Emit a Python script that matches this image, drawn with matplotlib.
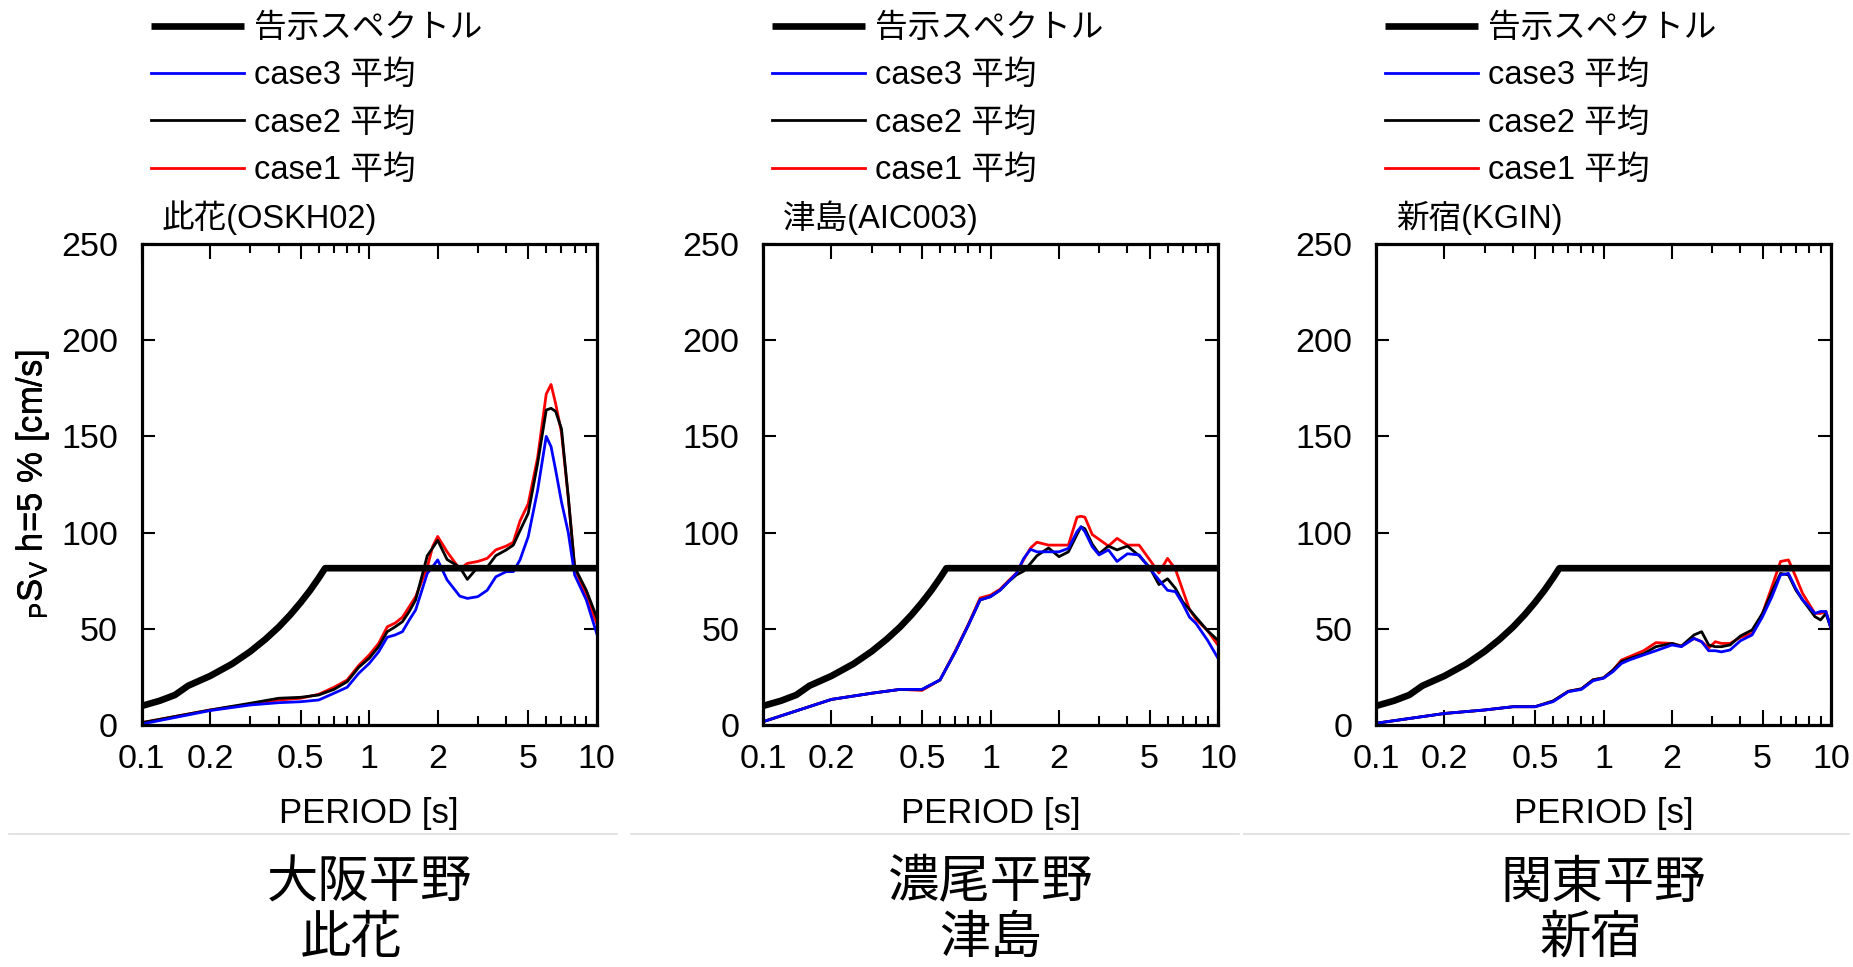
import matplotlib
matplotlib.use("Agg")
import matplotlib.pyplot as plt
from matplotlib.lines import Line2D
from matplotlib.ticker import NullFormatter

plt.rcParams["font.family"] = ["Liberation Sans", "Noto Sans CJK JP"]
plt.rcParams["mathtext.fontset"] = "custom"
plt.rcParams["mathtext.rm"] = "Liberation Sans"
plt.rcParams["mathtext.it"] = "Liberation Sans:italic"
plt.rcParams["mathtext.bf"] = "Liberation Sans:bold"

# Espectro del aviso (告示スペクトル)
KOKUJI_T = [0.1, 0.12, 0.14, 0.16, 0.2, 0.25, 0.3, 0.35, 0.4, 0.45, 0.5, 0.55, 0.6, 0.64, 10.0]
KOKUJI_SV = [9.9, 12.6, 15.6, 20.4, 25.5, 31.8, 38.2, 44.6, 50.9, 57.3, 63.7, 70.0, 76.4, 81.5, 81.5]

# 此花(OSKH02)
OSKH_T = [0.1, 0.2, 0.3, 0.4, 0.5, 0.6, 0.7, 0.8, 0.9, 1.0, 1.1, 1.2, 1.3, 1.4, 1.5, 1.6, 1.8, 1.9, 2.0,
          2.2, 2.5, 2.7, 3.0, 3.3, 3.6, 4.0, 4.3, 4.6, 5.0, 5.5, 6.0, 6.3, 6.6, 7.0, 7.5, 8.0, 9.0, 10.0]
OSKH_CASE1 = [1.2, 7.8, 10.9, 13.0, 13.9, 16.0, 19.6, 23.4, 31.0, 36.4, 42.4, 51.0, 53.0, 56.0, 61.5, 66.7,
              82.0, 92.7, 98.0, 90.0, 81.0, 84.0, 85.0, 86.6, 91.0, 93.0, 95.0, 106.0, 115.0, 139.0,
              172.0, 177.0, 167.0, 152.0, 118.0, 82.0, 66.7, 53.0]
OSKH_CASE2 = [1.2, 7.8, 11.3, 13.9, 14.4, 15.6, 18.5, 22.5, 30.0, 34.7, 40.7, 48.5, 51.0, 53.7, 59.0, 65.0,
              88.0, 92.0, 96.0, 86.0, 82.0, 75.7, 82.0, 82.0, 88.0, 91.0, 93.5, 101.0, 110.0, 136.0,
              163.7, 164.6, 163.0, 154.0, 118.7, 82.0, 70.0, 56.0]
OSKH_CASE3 = [0.5, 7.5, 10.4, 11.6, 12.1, 13.0, 16.5, 19.6, 26.9, 32.0, 38.0, 45.6, 46.8, 48.5, 54.6, 59.8,
              78.8, 82.3, 85.8, 75.4, 67.0, 65.8, 66.7, 70.0, 77.0, 79.7, 79.7, 85.8, 97.9, 122.0,
              150.0, 144.7, 132.5, 116.0, 100.0, 78.0, 65.0, 47.6]

# 津島(AIC003)
AIC_T = [0.1, 0.2, 0.3, 0.4, 0.5, 0.6, 0.7, 0.8, 0.9, 1.0, 1.1, 1.2, 1.3, 1.4, 1.5, 1.6, 1.8, 2.0, 2.2,
         2.4, 2.5, 2.6, 2.8, 3.0, 3.3, 3.6, 4.0, 4.5, 5.0, 5.5, 6.0, 6.5, 7.0, 7.5, 8.0, 9.0, 10.0]
AIC_CASE1 = [1.7, 13.3, 16.5, 18.5, 18.0, 23.4, 38.5, 52.5, 66.0, 67.5, 70.5, 75.0, 79.0, 86.0, 92.0, 95.0,
             93.5, 93.5, 93.5, 108.0, 108.5, 108.0, 99.0, 96.5, 93.0, 97.0, 93.5, 93.5, 86.0, 79.0,
             86.6, 81.0, 70.0, 60.0, 55.0, 49.0, 41.5]
AIC_CASE2 = [1.7, 13.3, 16.5, 18.5, 18.5, 23.4, 38.0, 52.0, 65.0, 66.7, 70.0, 74.5, 78.0, 80.0, 84.0, 88.0,
             92.0, 87.5, 90.0, 99.0, 103.0, 102.0, 94.0, 89.0, 93.0, 91.0, 93.0, 88.0, 82.0, 73.0,
             76.0, 71.0, 64.0, 60.0, 56.0, 49.0, 44.0]
AIC_CASE3 = [1.7, 13.3, 16.5, 18.5, 18.5, 23.4, 38.0, 52.0, 65.0, 66.7, 70.0, 74.5, 78.8, 86.6, 91.3, 90.0,
             90.0, 90.0, 91.8, 100.5, 103.0, 100.5, 92.7, 88.4, 91.0, 85.0, 89.0, 88.4, 81.4, 75.4,
             70.0, 69.3, 63.0, 56.0, 52.8, 44.0, 34.7]

# 新宿(KGIN)
KGIN_T = [0.1, 0.2, 0.3, 0.4, 0.5, 0.6, 0.7, 0.8, 0.9, 1.0, 1.1, 1.2, 1.3, 1.5, 1.7, 2.0, 2.2, 2.5, 2.7,
          2.9, 3.1, 3.3, 3.6, 4.0, 4.5, 5.0, 5.5, 6.0, 6.5, 7.0, 7.5, 8.0, 8.5, 9.0, 9.5, 10.0]
KGIN_CASE1 = [0.9, 6.0, 7.8, 9.5, 9.5, 12.4, 17.5, 18.8, 23.5, 24.5, 28.5, 33.8, 35.5, 38.6, 42.8, 42.4,
              41.0, 45.0, 43.3, 40.0, 43.3, 42.4, 42.4, 45.6, 47.6, 58.0, 71.9, 85.0, 85.8, 77.0,
              68.4, 63.0, 58.0, 58.0, 59.0, 50.2]
KGIN_CASE2 = [0.9, 6.0, 7.8, 9.5, 9.5, 12.5, 17.5, 18.8, 23.5, 24.5, 28.5, 33.0, 34.5, 37.0, 40.7, 42.4,
              41.0, 46.8, 48.5, 41.6, 40.7, 40.7, 41.6, 46.3, 49.4, 58.0, 69.3, 78.8, 78.0, 70.2,
              65.0, 60.6, 56.3, 54.6, 58.0, 50.2]
KGIN_CASE3 = [0.9, 6.0, 7.8, 9.5, 9.5, 12.1, 17.3, 18.5, 23.0, 24.3, 27.7, 32.0, 33.8, 36.4, 38.6, 41.6,
              40.7, 45.0, 43.3, 38.6, 38.6, 38.0, 39.0, 43.8, 46.8, 56.3, 66.7, 78.0, 78.8, 71.0,
              65.0, 61.5, 58.0, 59.0, 59.0, 50.2]

STATIONS = ["此花(OSKH02)", "津島(AIC003)", "新宿(KGIN)"]
PLAINS = ["大阪平野", "濃尾平野", "関東平野"]
SITES = ["此花", "津島", "新宿"]

X_MAJOR = [0.1, 0.2, 0.5, 1, 2, 5, 10]
X_MAJOR_LABELS = ["0.1", "0.2", "0.5", "1", "2", "5", "10"]
X_MINOR = [0.3, 0.4, 0.6, 0.7, 0.8, 0.9, 3, 4, 6, 7, 8, 9]
Y_TICKS = [0, 50, 100, 150, 200, 250]

LEGEND_LABELS = ["告示スペクトル", "case3 平均", "case2 平均", "case1 平均"]
YLABEL = r"${}_{\mathrm{P}}\mathrm{S}_{\mathrm{V}}$ h=5 % [cm/s]"

W, H = 1853, 967
AX_LEFT_PX = [141.7, 763.0, 1376.0]
AX_W_PX = 455.0
AX_TOP_PX, AX_BOTTOM_PX = 244.0, 725.0
SEP_PX = [(9, 617), (631, 1239), (1244, 1849)]
SITE_X_SHIFT_PX = [-18, 0, -13]


def draw_panel(fig, i, T, c1, c2, c3):
    left = AX_LEFT_PX[i] / W
    bottom = 1 - AX_BOTTOM_PX / H
    ax_h = AX_BOTTOM_PX - AX_TOP_PX
    ax = fig.add_axes([left, bottom, AX_W_PX / W, ax_h / H])

    l1, = ax.plot(T, c1, color="#ff0000", lw=2.0)
    l2, = ax.plot(T, c2, color="black", lw=2.0)
    l3, = ax.plot(T, c3, color="#0000ff", lw=2.0)
    lk, = ax.plot(KOKUJI_T, KOKUJI_SV, color="black", lw=4.8, solid_capstyle="butt")

    ax.set_xscale("log")
    ax.set_xlim(0.1, 10)
    ax.set_ylim(0, 250)
    ax.set_xticks(X_MAJOR, X_MAJOR_LABELS)
    ax.set_xticks(X_MINOR, minor=True)
    ax.xaxis.set_minor_formatter(NullFormatter())
    ax.set_yticks(Y_TICKS)

    for s in ax.spines.values():
        s.set_linewidth(2.3)
    ax.tick_params(which="both", direction="in", top=True, right=True, width=1.5, labelsize=24.5)
    ax.tick_params(axis="x", which="major", length=11, pad=13.5)
    ax.tick_params(axis="x", which="minor", length=6.5)
    ax.tick_params(axis="y", which="major", length=9.5, pad=17)

    ax.set_xlabel("PERIOD [s]", fontsize=25)
    ax.xaxis.label.set_va("center")
    ax.xaxis.set_label_coords(0.5, (AX_BOTTOM_PX - 814) / ax_h)
    ax.text((33 - AX_LEFT_PX[i]) / AX_W_PX, 0.5, YLABEL, transform=ax.transAxes,
            rotation=90, ha="center", va="center", fontsize=25)

    ax.text(20 / AX_W_PX, 1 + 26 / ax_h, STATIONS[i], transform=ax.transAxes,
            ha="left", va="center", fontsize=23.5)

    ax.legend([lk, l3, l2, l1], LEGEND_LABELS, loc="upper left",
              bbox_to_anchor=(9 / AX_W_PX, 1 + (AX_TOP_PX - 13) / ax_h),
              frameon=False, fontsize=23.5, handlelength=2.85, handletextpad=0.3,
              labelspacing=0.5, borderpad=0, borderaxespad=0)

    # separador y rotulos inferiores
    x0, x1 = SEP_PX[i]
    fig.add_artist(Line2D([x0 / W, x1 / W], [1 - 834 / H] * 2, color="#dddddd", lw=1.2))
    cx = (AX_LEFT_PX[i] + AX_W_PX / 2) / W
    fig.text(cx, 1 - 883 / H, PLAINS[i], ha="center", va="center", fontsize=37,
             family="Noto Sans CJK JP")
    fig.text(cx + SITE_X_SHIFT_PX[i] / W, 1 - 938 / H, SITES[i], ha="center", va="center",
             fontsize=37, family="Noto Sans CJK JP")


def main():
    fig = plt.figure(figsize=(W / 100, H / 100), dpi=100)
    draw_panel(fig, 0, OSKH_T, OSKH_CASE1, OSKH_CASE2, OSKH_CASE3)
    draw_panel(fig, 1, AIC_T, AIC_CASE1, AIC_CASE2, AIC_CASE3)
    draw_panel(fig, 2, KGIN_T, KGIN_CASE1, KGIN_CASE2, KGIN_CASE3)
    fig.savefig("out.png", dpi=100)
    plt.close(fig)


if __name__ == "__main__":
    main()
